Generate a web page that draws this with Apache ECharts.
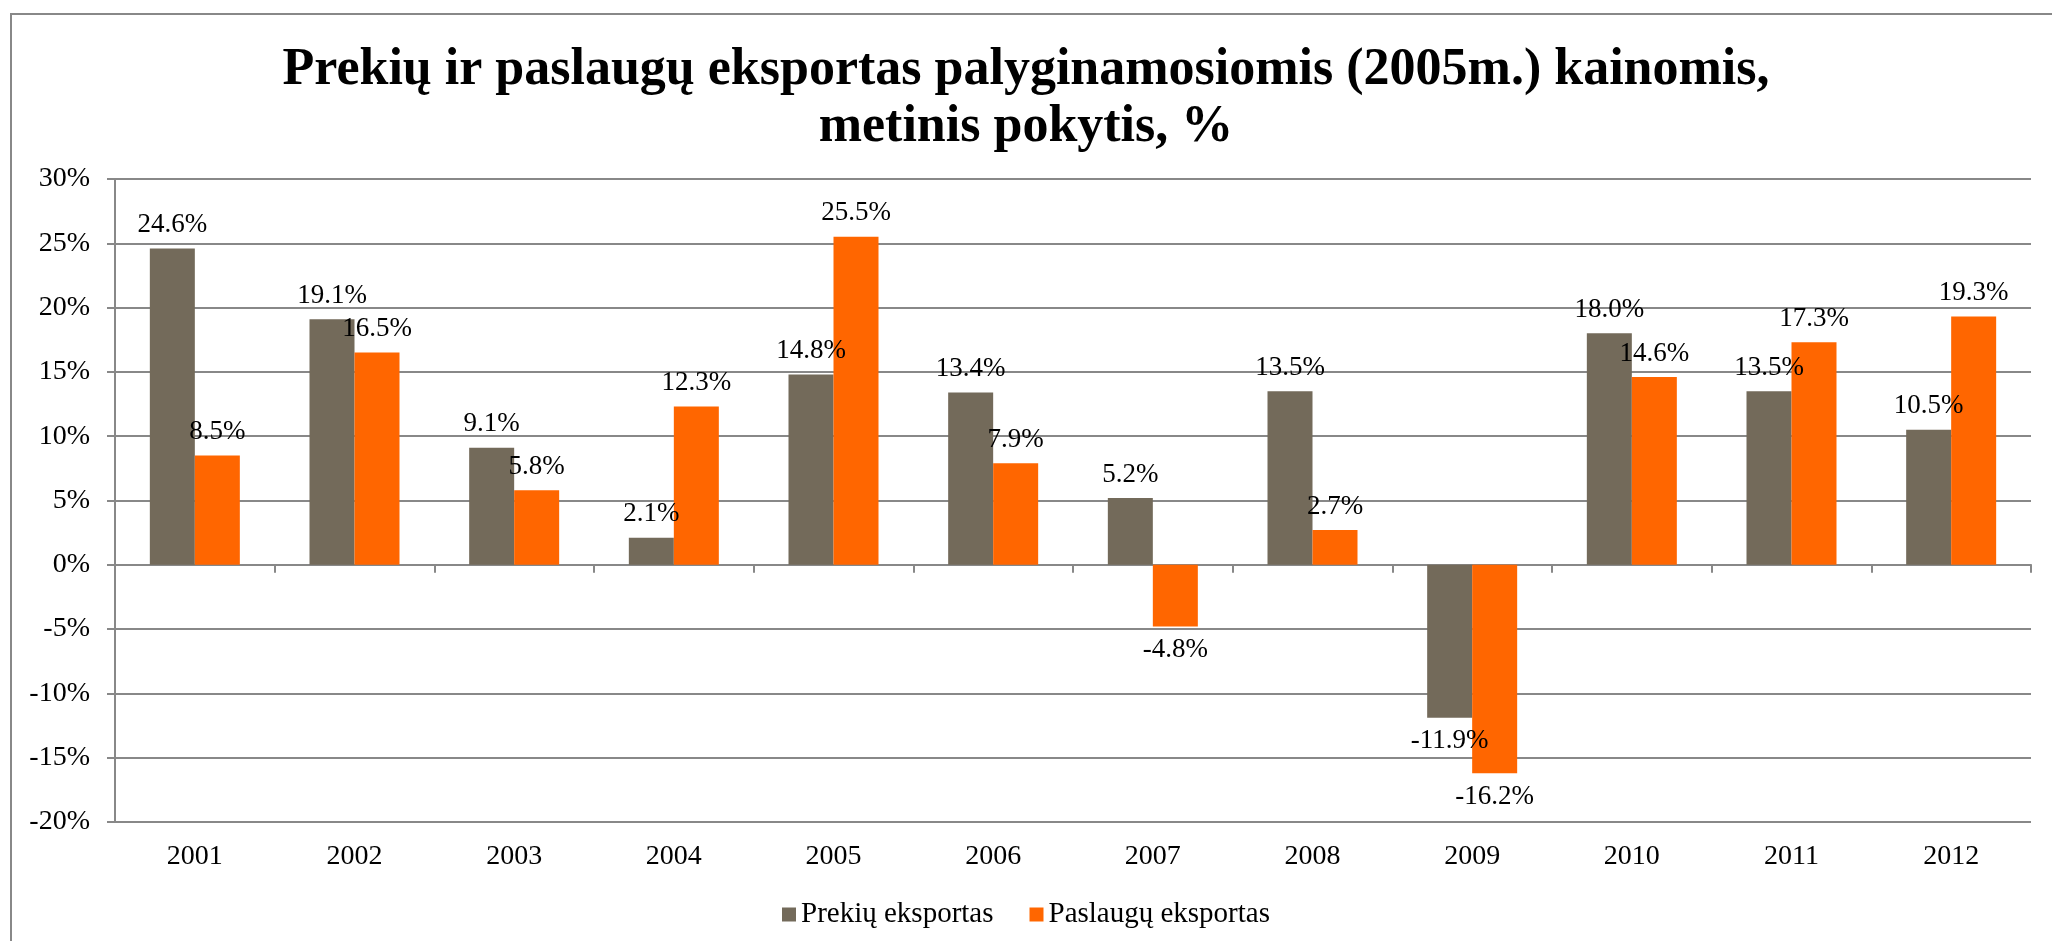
<!DOCTYPE html>
<html>
<head>
<meta charset="utf-8">
<script src="https://cdn.jsdelivr.net/npm/echarts@6/dist/echarts.min.js"></script>
<style>
  html, body { margin: 0; padding: 0; background: #fff; }
  #main { width: 2052px; height: 941px; }
</style>
</head>
<body>
<div id="main"></div>
<script>
// metai
const years = ['2001', '2002', '2003', '2004', '2005', '2006', '2007', '2008', '2009', '2010', '2011', '2012']
// metinis pokytis, %
const prekiu = [24.6, 19.1, 9.1, 2.1, 14.8, 13.4, 5.2, 13.5, -11.9, 18.0, 13.5, 10.5]
const paslaugu = [8.5, 16.5, 5.8, 12.3, 25.5, 7.9, -4.8, 2.7, -16.2, 14.6, 17.3, 19.3]
const yTicks = [-20, -15, -10, -5, 0, 5, 10, 15, 20, 25, 30]

const font = 'Liberation Serif'

// teigiamoms reikšmėms etiketė viršuje, neigiamoms - apačioje
function barData(values) {
  return values.map((v) => ({
    value: v,
    label: { position: v < 0 ? 'bottom' : 'top' },
  }))
}

const barLabel = {
  show: true,
  distance: 10,
  formatter: (p) => p.value.toFixed(1) + '%',
  fontFamily: font,
  fontSize: 27,
  color: '#000',
}

let option = {
  animation: false,
  color: ['#736a5a', '#ff6600'],
  title: {
    text: 'Prekių ir paslaugų eksportas palyginamosiomis (2005m.) kainomis,\nmetinis pokytis, %',
    left: 'center',
    top: 37,
    textStyle: {
      fontFamily: font,
      fontWeight: 'bold',
      fontSize: 52,
      lineHeight: 57,
      color: '#000',
    },
  },
  legend: {
    data: ['Prekių eksportas', 'Paslaugų eksportas'],
    top: 895,
    left: 'center',
    itemWidth: 14,
    itemHeight: 14,
    itemGap: 36,
    icon: 'rect',
    textStyle: { fontFamily: font, fontSize: 29, color: '#000' },
  },
  grid: {
    left: 115,
    right: 21,
    top: 179,
    bottom: 119,
  },
  xAxis: [
    {
      type: 'category',
      data: years,
      position: 'bottom',
      axisLine: { show: false, onZero: false },
      axisTick: { show: false },
      axisLabel: { fontFamily: font, fontSize: 28, color: '#000', margin: 21 },
    },
    {
      // nulinė ašis su padalomis
      type: 'category',
      data: years,
      position: 'top',
      axisLine: { show: true, onZero: true, lineStyle: { color: '#888', width: 2 } },
      axisTick: { show: true, inside: true, length: 8, lineStyle: { color: '#888', width: 2 } },
      axisLabel: { show: false },
    },
  ],
  yAxis: {
    type: 'value',
    min: yTicks[0],
    max: yTicks[yTicks.length - 1],
    interval: 5,
    axisLine: { show: true, lineStyle: { color: '#888', width: 2 } },
    axisTick: { show: true, length: 8, lineStyle: { color: '#888', width: 2 } },
    axisLabel: {
      formatter: '{value}%',
      fontFamily: font,
      fontSize: 28,
      color: '#000',
      margin: 25,
    },
    splitLine: { lineStyle: { color: '#888', width: 2 } },
  },
  series: [
    {
      name: 'Prekių eksportas',
      type: 'bar',
      barWidth: 45,
      barGap: '0%',
      data: barData(prekiu),
      label: barLabel,
    },
    {
      name: 'Paslaugų eksportas',
      type: 'bar',
      barWidth: 45,
      barGap: '0%',
      data: barData(paslaugu),
      label: barLabel,
    },
  ],
  graphic: [
    {
      type: 'rect',
      silent: true,
      shape: { x: 11, y: 14, width: 2100, height: 1000 },
      style: { fill: 'none', stroke: '#888', lineWidth: 2 },
    },
  ],
}

var chartDom = document.getElementById('main')
var myChart = echarts.init(chartDom)
option && myChart.setOption(option)
</script>
</body>
</html>
